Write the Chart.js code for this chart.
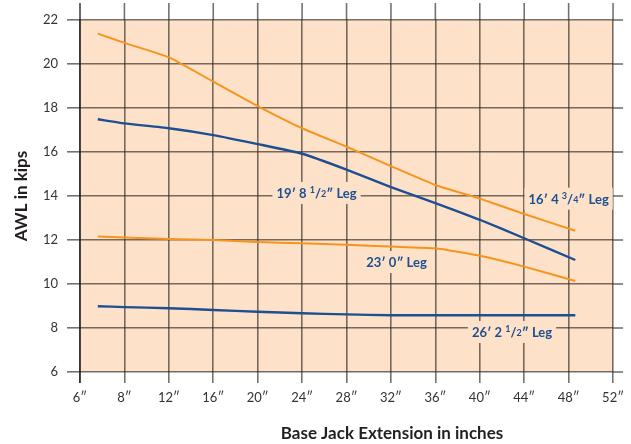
<!DOCTYPE html>
<html>
<head>
<meta charset="utf-8">
<script src="https://cdn.jsdelivr.net/npm/chart.js@4/dist/chart.umd.min.js"></script>
<style>
  html, body { margin: 0; padding: 0; background: #fff; }
  #wrap { width: 631px; height: 444px; }
</style>
</head>
<body>
<div id="wrap"><canvas id="awl" width="631" height="444"></canvas></div>
<script>
'use strict'

// tick labels along the bottom (equally spaced, not to scale)
const xTickInches = [6, 8, 12, 16, 20, 24, 28, 32, 36, 40, 44, 48, 52];
const xTickLabels = xTickInches.map(v => v + '\u2033');

// extension points, inches
const extension = [6.8, 8, 12, 16, 20, 24, 28, 32, 36, 40, 44, 48.6];

// AWL in kips per leg length
const leg16_4_75 = [21.38, 20.96, 20.30, 19.20, 18.09, 17.08, 16.24, 15.36, 14.50, 13.88, 13.18, 12.42];
const leg19_8_5  = [17.49, 17.30, 17.08, 16.77, 16.36, 15.92, 15.20, 14.40, 13.68, 12.92, 12.08, 11.09];
const leg23_0    = [12.16, 12.11, 12.05, 12.00, 11.91, 11.85, 11.78, 11.70, 11.62, 11.28, 10.79, 10.14];
const leg26_2_5  = [8.99, 8.95, 8.90, 8.82, 8.74, 8.67, 8.62, 8.58, 8.58, 8.58, 8.58, 8.58];

// curve labels: pieces of text, position in inches / kips
const labelParts = [
    [['19\u2032 8 '], ['1', 'sup'], ['/'], ['2', 'sub'], ['\u2033 Leg']],
    [['16\u2032 4 '], ['3', 'sup'], ['/'], ['4', 'sub'], ['\u2033 Leg']],
    [['23\u2032 0\u2033 Leg']],
    [['26\u2032 2 '], ['1', 'sup'], ['/'], ['2', 'sub'], ['\u2033 Leg']]
];
const labelInches = [25.3, 48.0, 32.5, 42.9];
const labelKips = [14.14, 13.88, 11.0, 7.82];

const ORANGE = '#f7941d';
const BLUE = '#1d4f91';
const PEACH = '#fde2c9';
const GRID = 'rgba(55,45,40,0.68)';

// the x axis is drawn as equal steps: 6->8 is one step, then 4" per step
function toPos(inches) {
    if (inches < 8) return (inches - 6) / 2;
    return 1 + (inches - 8) / 4;
}

function series(values) {
    return values.map((v, i) => ({ x: toPos(extension[i]), y: v }));
}

function drawRich(ctx, parts, cx, cy) {
    const big = 'bold 13px Lato';
    const small = 'bold 9px Lato';
    let width = 0;
    parts.forEach(p => {
        ctx.font = p[1] ? small : big;
        width += ctx.measureText(p[0]).width;
    });
    let x = cx - width / 2;
    ctx.fillStyle = PEACH;
    ctx.fillRect(x - 4, cy - 11, width + 8, 22);
    ctx.fillStyle = BLUE;
    ctx.textBaseline = 'alphabetic';
    ctx.textAlign = 'left';
    parts.forEach(p => {
        ctx.font = p[1] ? small : big;
        let dy = 0;
        if (p[1] === 'sup') dy = -5;
        if (p[1] === 'sub') dy = -1;
        ctx.fillText(p[0], x, cy + 5 + dy);
        x += ctx.measureText(p[0]).width;
    });
}

const decor = {
    id: 'decor',
    beforeDraw(chart) {
        const { ctx, chartArea: a } = chart;
        ctx.save();
        ctx.fillStyle = PEACH;
        ctx.fillRect(a.left, a.top, a.right - a.left, a.bottom - a.top);
        ctx.restore();
    },
    beforeDatasetsDraw(chart) {
        const { ctx, chartArea: a, scales } = chart;
        ctx.save();
        ctx.strokeStyle = GRID;
        ctx.lineWidth = 1.6;
        // vertical lines run a little above the plot
        xTickInches.forEach((v, i) => {
            if (i === 0) return;
            const px = scales.x.getPixelForValue(i);
            ctx.beginPath();
            ctx.moveTo(px, a.top - 17);
            ctx.lineTo(px, a.top);
            ctx.stroke();
        });
        // horizontal lines run a little past the right edge
        for (let v = 6; v <= 22; v += 2) {
            const py = scales.y.getPixelForValue(v);
            ctx.beginPath();
            ctx.moveTo(a.right, py);
            ctx.lineTo(a.right + 10, py);
            ctx.stroke();
        }
        // left axis line
        ctx.strokeStyle = '#1a1a1a';
        ctx.lineWidth = 1.3;
        ctx.beginPath();
        ctx.moveTo(a.left, a.top - 17);
        ctx.lineTo(a.left, a.bottom + 11);
        ctx.stroke();
        ctx.restore();
    },
    afterDraw(chart) {
        const { ctx, chartArea: a, scales } = chart;
        ctx.save();
        labelParts.forEach((parts, i) => {
            drawRich(ctx, parts,
                scales.x.getPixelForValue(toPos(labelInches[i])),
                scales.y.getPixelForValue(labelKips[i]));
        });
        ctx.fillStyle = '#231f20';
        ctx.font = 'bold 17px Lato';
        ctx.textAlign = 'center';
        ctx.textBaseline = 'middle';
        ctx.fillText('Base Jack Extension in inches', 392, 434);
        ctx.translate(22, (a.top + a.bottom) / 2);
        ctx.rotate(-Math.PI / 2);
        ctx.fillText('AWL in kips', 0, 0);
        ctx.restore();
    }
};

const lineStyle = { fill: false, pointRadius: 0, tension: 0.15, borderCapStyle: 'butt' };

new Chart(document.getElementById('awl'), {
    type: 'line',
    data: {
        datasets: [
            Object.assign({ label: '16\u2032 4 3/4\u2033 Leg', data: series(leg16_4_75), borderColor: ORANGE, borderWidth: 2 }, lineStyle),
            Object.assign({ label: '19\u2032 8 1/2\u2033 Leg', data: series(leg19_8_5), borderColor: BLUE, borderWidth: 2.4 }, lineStyle),
            Object.assign({ label: '23\u2032 0\u2033 Leg', data: series(leg23_0), borderColor: ORANGE, borderWidth: 2 }, lineStyle),
            Object.assign({ label: '26\u2032 2 1/2\u2033 Leg', data: series(leg26_2_5), borderColor: BLUE, borderWidth: 2.4 }, lineStyle)
        ]
    },
    plugins: [decor],
    options: {
        responsive: false,
        animation: false,
        layout: { padding: { left: 0, top: 20, right: 14, bottom: 0 } },
        plugins: { legend: { display: false }, tooltip: { enabled: false } },
        scales: {
            x: {
                type: 'linear',
                min: 0,
                max: 12,
                afterFit(scale) { scale.height = 72; },
                afterBuildTicks(scale) {
                    scale.ticks = xTickInches.map((v, i) => ({ value: i }));
                },
                ticks: {
                    autoSkip: false,
                    maxRotation: 0,
                    padding: 7,
                    color: '#333',
                    font: { family: 'Lato', size: 13 },
                    callback: v => xTickLabels[v]
                },
                grid: { color: GRID, lineWidth: 1.6, tickLength: 11, drawOnChartArea: true },
                border: { display: false }
            },
            y: {
                min: 6,
                max: 22,
                afterFit(scale) { scale.width = 80; },
                ticks: {
                    stepSize: 2,
                    padding: 9,
                    color: '#333',
                    font: { family: 'Lato', size: 13 }
                },
                grid: { color: GRID, lineWidth: 1.6, tickLength: 13 },
                border: { display: false }
            }
        }
    }
});
</script>
</body>
</html>
